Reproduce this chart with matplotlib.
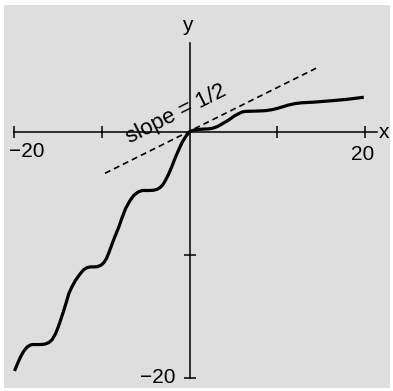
import matplotlib
matplotlib.use("Agg")
import matplotlib.pyplot as plt
from matplotlib.patches import Rectangle

plt.rcParams['font.family'] = ['Liberation Sans', 'DejaVu Sans']
plt.rcParams['lines.scale_dashes'] = False

# Curve (data units)
curve_x = [-19.94, -19.6, -19.26, -18.9, -18.50, -18.2, -17.93, -17.21, -16.8, -16.41,
           -16.0, -15.65, -15.25, -14.89, -14.6, -14.32, -14.03, -13.75, -13.4, -12.99,
           -12.5, -12.05, -11.65, -11.28, -10.9, -10.52, -10.1, -9.75, -9.45, -9.15,
           -8.81, -8.45, -8.06, -7.7, -7.29, -6.8, -6.35, -5.85, -5.39, -4.56,
           -4.1, -3.68, -3.35, -3.05, -2.75, -2.36, -1.98, -1.60, -1.2, -0.83,
           -0.4, 0.0, 0.3, 0.68, 1.6, 2.1, 2.59, 3.2, 3.73, 4.48, 5.1, 5.62, 6.0,
           6.38, 7.86, 8.7, 9.42, 10.0, 10.56, 11.3, 12.08, 12.8, 14.17, 16.07,
           17.97, 19.86]
curve_y = [-19.45, -18.85, -18.31, -17.85, -17.50, -17.36, -17.30, -17.30, -17.29, -17.25,
           -17.12, -16.90, -16.40, -15.73, -15.12, -14.51, -13.83, -13.15, -12.60, -12.07,
           -11.58, -11.20, -11.03, -10.98, -10.98, -10.96, -10.85, -10.62, -10.28, -9.75,
           -9.09, -8.42, -7.74, -7.0, -6.24, -5.6, -5.16, -4.88, -4.76, -4.76,
           -4.74, -4.66, -4.52, -4.30, -3.95, -3.40, -2.75, -2.05, -1.40, -0.83,
           -0.33, 0.0, 0.11, 0.18, 0.24, 0.25, 0.30, 0.45, 0.67, 0.98, 1.30, 1.50, 1.63,
           1.68, 1.71, 1.74, 1.82, 1.92, 2.04, 2.20, 2.32, 2.38, 2.43, 2.54,
           2.66, 2.83]

# Dashed reference line ("slope = 1/2") endpoints
ref_x = [-9.63, 14.42]
ref_y = [-3.36, 5.19]

x_ticks = [-20, -10, 10, 20]
y_ticks = [-20, -10]

fig = plt.figure(figsize=(3.93, 3.91), dpi=100)
fig.patch.set_facecolor('white')
bg = Rectangle((4 / 393, 1 - 388 / 391), (390 - 4) / 393, (388 - 5) / 391,
               transform=fig.transFigure, facecolor='#dedede',
               edgecolor='none', zorder=-10)
fig.patches.append(bg)

ax = fig.add_axes([0, 0, 1, 1])
ax.set_zorder(5)
ax.patch.set_alpha(0)
ax.set_xlim(-21.595, 23.19)
ax.set_ylim(-21.08, 10.745)

for s in ['top', 'right']:
    ax.spines[s].set_visible(False)
ax.spines['left'].set_position(('data', 0))
ax.spines['bottom'].set_position(('data', 0))
ax.spines['left'].set_bounds(-20, 7.24)
ax.spines['bottom'].set_bounds(-20, 21.37)
for s in ['left', 'bottom']:
    ax.spines[s].set_linewidth(1.1)

ax.set_xticks(x_ticks)
ax.set_yticks(y_ticks)
ax.tick_params(direction='inout', length=8, width=1.1, labelbottom=False, labelleft=False)

ax.plot(curve_x, curve_y, color='black', lw=2.3, solid_capstyle='butt',
        solid_joinstyle='round', zorder=3)
ax.plot(ref_x, ref_y, color='black', lw=1.2, dashes=(4.3, 2.9), zorder=2)

fs = 15
ax.text(-18.52, -2.01, '\u221220', fontsize=fs, ha='center', va='baseline')
ax.text(19.74, -2.28, '20', fontsize=fs, ha='center', va='baseline')
ax.text(-1.65, -20.46, '\u221220', fontsize=fs, ha='right', va='baseline')
ax.text(22.11, -0.46, 'x', fontsize=fs, ha='center', va='baseline')
ax.text(-0.23, 8.26, 'y', fontsize=fs, ha='center', va='baseline')
ax.text(-1.55, 1.45, 'slope = 1/2', fontsize=16, ha='center', va='center',
        rotation=26.57, rotation_mode='anchor')

fig.savefig('out.png', dpi=100, facecolor='white')
